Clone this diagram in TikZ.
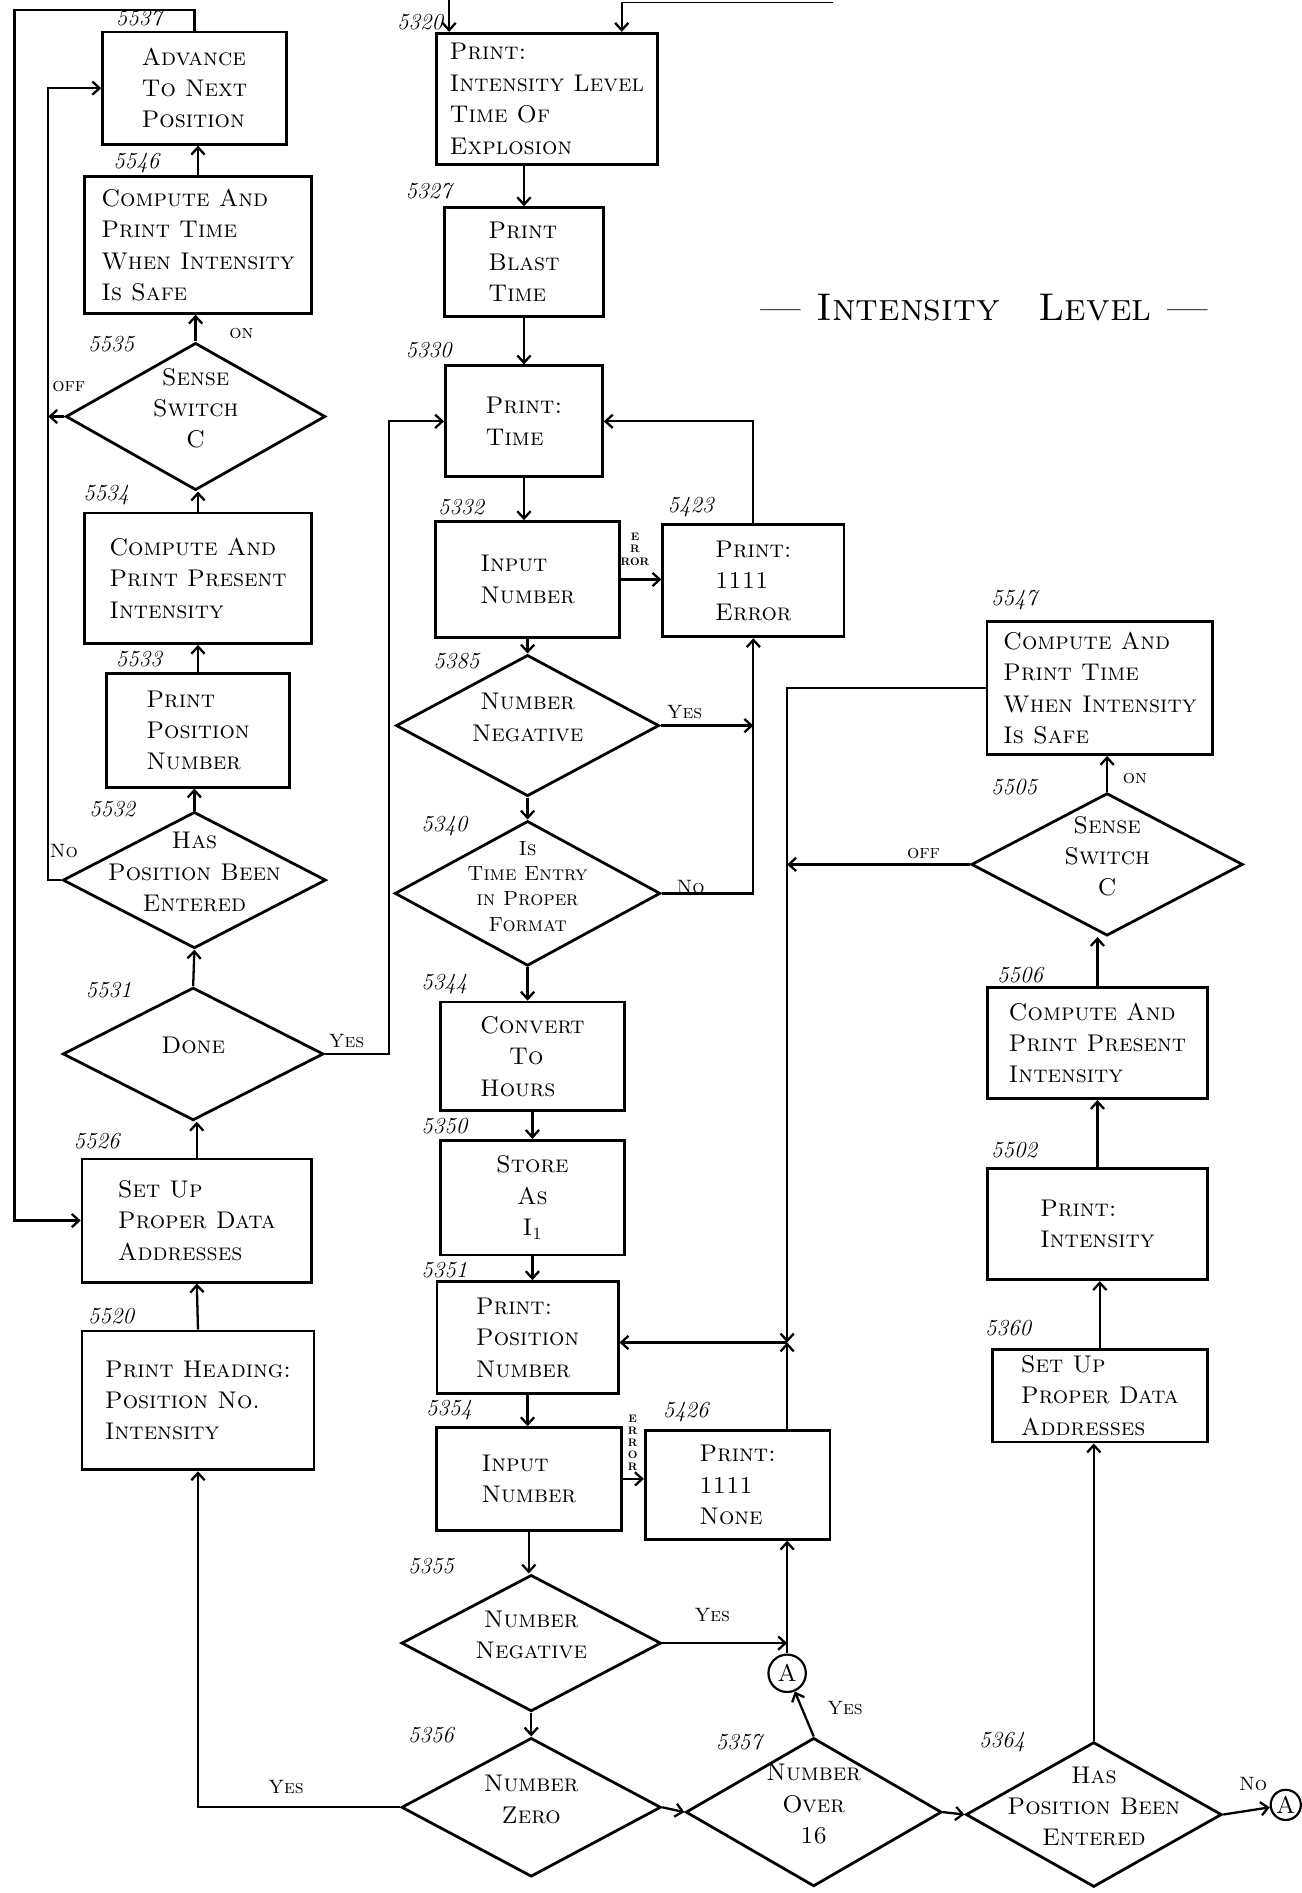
\documentclass[tikz,border=0pt]{standalone}
\usepackage{fontspec}
\usetikzlibrary{shapes.geometric,arrows.meta}

\newcommand{\boxfont}{\fontsize{20}{26}\selectfont\scshape}
\newcommand{\smallboxfont}{\fontsize{17}{21}\selectfont\scshape}
\newcommand{\numfont}{\fontsize{19}{19}\selectfont\itshape}
\newcommand{\tagfont}{\fontsize{16}{16}\selectfont\scshape}
\newcommand{\errfont}{\fontsize{9}{10}\selectfont\bfseries}
\newcommand{\titlefont}{\fontsize{32}{36}\selectfont\scshape}
% diamond text that does not push the diamond wider
\newcommand{\dtext}[1]{\makebox[0pt]{\smash{\begin{tabular}{@{}c@{}}#1\end{tabular}}}}

\begin{document}
\begin{tikzpicture}[x=1pt,y=-1pt,
  box/.style={draw,line width=2.3pt,align=left,inner sep=4pt,font=\boxfont},
  dia/.style={draw,diamond,line width=2.3pt,inner sep=0pt,font=\boxfont},
  num/.style={inner sep=1pt,font=\numfont},
  tag/.style={inner sep=1pt,font=\tagfont},
  conn/.style={draw,circle,line width=1.8pt,inner sep=0pt,font=\boxfont},
  flow/.style={->,line width=1.9pt},
  >={Straight Barb[length=6pt,width=11pt]}]
\useasboundingbox (0,0) rectangle (1078,1568);

% left column
\draw (161,73) node[box,minimum width=152,minimum height=93](adv) {Advance\\To Next\\Position};
\draw (164,203) node[box,minimum width=188,minimum height=113](safeL) {Compute And\\Print Time\\When Intensity\\Is Safe};
\draw (162,345) node[dia,minimum width=215,minimum height=122](swL) {\dtext{Sense\\Switch\\C}};
\draw (164,479) node[box,minimum width=188,minimum height=108](presL) {Compute And\\Print Present\\Intensity};
\draw (164,605) node[box,minimum width=152,minimum height=94](posL) {Print\\Position\\Number};
\draw (161,729) node[dia,minimum width=218,minimum height=113](hasL) {\dtext{Has\\Position Been\\Entered}};
\draw (160,873) node[dia,minimum width=216,minimum height=110](done) {\dtext{Done}};
\draw (163,1011) node[box,minimum width=190,minimum height=102](setL) {Set Up\\Proper Data\\Addresses};
\draw (164,1160) node[box,minimum width=192,minimum height=115](head) {Print Heading:\\Position No.\\Intensity};

% middle column
\draw (453,82) node[box,minimum width=183,minimum height=109](expl) {Print:\\Intensity Level\\Time Of\\Explosion};
\draw (434,217) node[box,minimum width=132,minimum height=90](blast) {Print\\Blast\\Time};
\draw (434,349) node[box,minimum width=130,minimum height=92](ptime) {Print:\\Time};
\draw (437,480) node[box,minimum width=152,minimum height=96](inp1) {Input\\Number};
\draw (624,481) node[box,minimum width=150,minimum height=93](err) {Print:\\1111\\Error};
\draw (437,601) node[dia,minimum width=218,minimum height=117](neg1) {\dtext{Number\\Negative}};
\draw (437,740) node[dia,minimum width=220,minimum height=120,font=\smallboxfont](fmt) {\dtext{Is\\Time Entry\\in Proper\\Format}};
\draw (441,875) node[box,minimum width=152,minimum height=90](hours) {Convert\\\hspace{1.2em}To\\Hours};
\draw (441,992) node[box,minimum width=152,minimum height=95,align=center](store) {Store\\As\\I\textsubscript{1}};
\draw (437,1108) node[box,minimum width=150,minimum height=93](posM) {Print:\\Position\\Number};
\draw (438,1225) node[box,minimum width=153,minimum height=85](inp2) {Input\\Number};
\draw (611,1230) node[box,minimum width=153,minimum height=90](none) {Print:\\1111\\None};
\draw (440,1361) node[dia,minimum width=215,minimum height=113](neg2) {\dtext{Number\\Negative}};
\draw (440,1497) node[dia,minimum width=215,minimum height=115](zero) {\dtext{Number\\Zero}};
\draw (674,1501) node[dia,minimum width=212,minimum height=123](over) {\dtext{Number\\Over\\16}};
\draw (906,1503) node[dia,minimum width=212,minimum height=120](hasR) {\dtext{Has\\Position Been\\Entered}};
\draw (652,1386) node[conn,minimum size=31](conA1) {A};
\draw (1065,1495) node[conn,minimum size=25](conA2) {A};

% right column
\draw (911,570) node[box,minimum width=187,minimum height=110](safeR) {Compute And\\Print Time\\When Intensity\\Is Safe};
\draw (917,716) node[dia,minimum width=225,minimum height=118](swR) {\dtext{Sense\\Switch\\C}};
\draw (909,864) node[box,minimum width=182,minimum height=92](presR) {Compute And\\Print Present\\Intensity};
\draw (909,1014) node[box,minimum width=182,minimum height=92](pint) {Print:\\Intensity};
\draw (911,1156) node[box,minimum width=178,minimum height=77](setR) {Set Up\\Proper Data\\Addresses};

\draw (815,255) node[font=\titlefont](title) {--- Intensity\quad Level ---};

% statement numbers
\draw (115,15) node[num](n5537) {5537};
\draw (113,135) node[num](n5546) {5546};
\draw (92,285) node[num](n5535) {5535};
\draw (88,410) node[num](n5534) {5534};
\draw (115,546) node[num](n5533) {5533};
\draw (93,670) node[num](n5532) {5532};
\draw (90,820) node[num](n5531) {5531};
\draw (80,945) node[num](n5526) {5526};
\draw (92,1090) node[num](n5520) {5520};
\draw (348,18) node[num](n5320) {5320};
\draw (355,158) node[num](n5327) {5327};
\draw (355,290) node[num](n5330) {5330};
\draw (382,420) node[num](n5332) {5332};
\draw (572,420) node[num](n5423) {5423};
\draw (378,548) node[num](n5385) {5385};
\draw (368,684) node[num](n5340) {5340};
\draw (368,815) node[num](n5344) {5344};
\draw (368,933) node[num](n5350) {5350};
\draw (368,1052) node[num](n5351) {5351};
\draw (372,1168) node[num](n5354) {5354};
\draw (568,1170) node[num](n5426) {5426};
\draw (357,1297) node[num](n5355) {5355};
\draw (357,1437) node[num](n5356) {5356};
\draw (612,1443) node[num](n5357) {5357};
\draw (830,1443) node[num](n5364) {5364};
\draw (835,1100) node[num](n5360) {5360};
\draw (840,953) node[num](n5502) {5502};
\draw (845,808) node[num](n5506) {5506};
\draw (840,652) node[num](n5505) {5505};
\draw (840,497) node[num](n5547) {5547};

% branch words
\draw (200,276) node[tag](onL) {on};
\draw (57,320) node[tag](offL) {off};
\draw (53,705) node[tag](noL) {No};
\draw (287,862) node[tag](yesDone) {Yes};
\draw (567,590) node[tag](yesNeg1) {Yes};
\draw (572,735) node[tag](noFmt) {No};
\draw (590,1338) node[tag](yesNeg2) {Yes};
\draw (700,1415) node[tag](yesOver) {Yes};
\draw (237,1480) node[tag](yesZero) {Yes};
\draw (1038,1478) node[tag](noHas) {No};
\draw (940,645) node[tag](onR) {on};
\draw (765,707) node[tag](offR) {off};
\draw (526,455) node[align=center,inner sep=0pt,font=\errfont](e1) {E\\R\\ROR};
\draw (524,1195) node[align=center,inner sep=0pt,font=\errfont](e2) {E\\R\\R\\O\\R};

% entries from the page above
\coordinate (inL) at (372,0);
\coordinate (inR) at (515,2);
\coordinate (jn) at (652,1112);
\draw[flow] (inL) -- (inL |- expl.north);
\draw[flow] (inR) -- (inR |- expl.north);
\draw[line width=1.2pt] (inR) -- (690,2);

% left column flow
\draw[flow] (safeL.north) -- (safeL.north |- adv.south);
\draw[flow] (swL.north) -- (swL.north |- safeL.south);
\draw[flow] (presL.north) -- (presL.north |- swL.south);
\draw[flow] (posL.north) -- (posL.north |- presL.south);
\draw[flow] (hasL.north) -- (hasL.north |- posL.south);
\draw[flow] (done.north) -- (hasL.south);
\draw[flow] (setL.north) -- (setL.north |- done.south);
\draw[flow] (head.north) -- (setL.south);
\draw[flow] (adv.north) |- (12,8) |- (setL.west);
\draw[flow] (swL.west) -- (40,345);
\draw[flow] (hasL.west) -- (40,729) |- (adv.west);
\draw[flow] (done.east) -- (322,873) |- (ptime.west);

% middle column flow
\draw[flow] (blast.north |- expl.south) -- (blast.north);
\draw[flow] (blast.south) -- (ptime.north);
\draw[flow] (ptime.south) -- (ptime.south |- inp1.north);
\draw[flow] (inp1.east) -- (inp1.east -| err.west);
\draw[flow] (err.north) |- (ptime.east);
\draw[flow] (inp1.south) -- (neg1.north);
\draw[flow] (neg1.south) -- (fmt.north);
\draw[flow] (neg1.east) -- (neg1.east -| err.south);
\draw[flow] (fmt.east) -| (err.south);
\draw[flow] (fmt.south) -- (fmt.south |- hours.north);
\draw[flow] (hours.south) -- (store.north);
\draw[flow] (store.south) -- (store.south |- posM.north);
\draw[flow] (posM.south) -- (posM.south |- inp2.north);
\draw[flow] (inp2.east) -- (inp2.east -| none.west);
\draw[flow] (inp2.south) -- (inp2.south |- neg2.north);
\draw[flow] (neg2.south) -- (zero.north);
\draw[flow] (neg2.east) -- (neg2.east -| conA1);
\draw[flow] (conA1.north) -- (conA1.north |- none.south);
\draw[flow] (zero.west) -| (head.south);
\draw[flow] (zero.east) -- (over.west);
\draw[flow] (over.north) -- (conA1);
\draw[flow] (over.east) -- (hasR.west);
\draw[flow] (hasR.east) -- (conA2);

% right column flow
\draw[flow] (hasR.north) -- (hasR.north |- setR.south);
\draw[flow] (setR.north) -- (setR.north |- pint.south);
\draw[flow] (pint.north) -- (presR.south);
\draw[flow] (presR.north) -- (presR.north |- swR.south);
\draw[flow] (swR.north) -- (swR.north |- safeR.south);
\draw[flow] (safeR.west) -| (jn);
\draw[flow] (swR.west) -- (swR.west -| jn);
\draw[flow] (none.north -| jn) -- (jn);
\draw[flow] (jn) -- (jn -| posM.east);
\end{tikzpicture}
\end{document}
